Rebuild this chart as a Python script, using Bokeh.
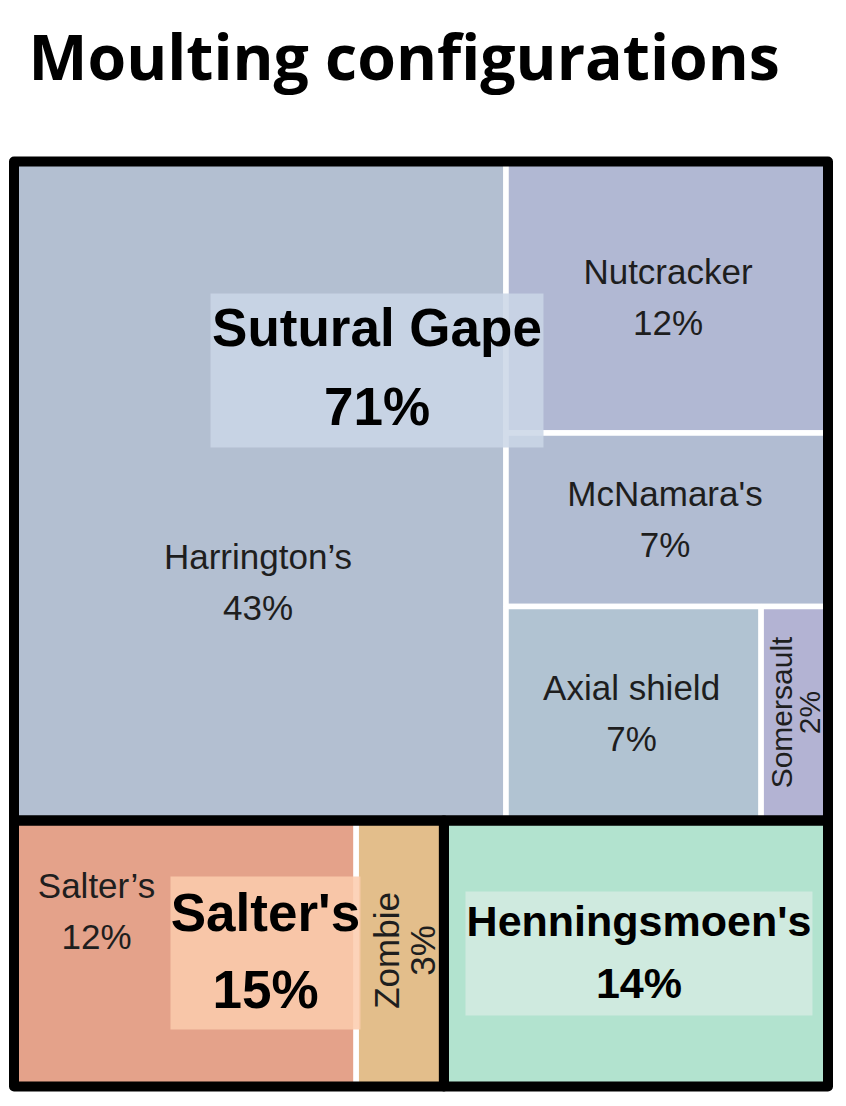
import math
from bokeh.plotting import figure
from bokeh.models import ColumnDataSource, Range1d, Label
from bokeh.core.properties import value, field
from bokeh.embed import file_html
from bokeh.resources import INLINE

# ---------------- data ----------------
TITLE = "Moulting configurations"
GROUPS = ["Sutural Gape", "Salter's", "Henningsmoen's"]
LEAF_NAMES = ["Harrington\u2019s", "Nutcracker", "McNamara's", "Axial shield",
              "Somersault", "Salter\u2019s", "Zombie", "Henningsmoen's"]
LEAF_GROUP = ["Sutural Gape", "Sutural Gape", "Sutural Gape", "Sutural Gape",
              "Sutural Gape", "Salter's", "Salter's", "Henningsmoen's"]
LEAF_PCT = [43.06, 11.61, 7.42, 7.25, 1.90, 12.09, 3.10, 13.57]

# ---------------- style ----------------
LEAF_COLORS = {
    "Harrington\u2019s": "#B3BFD1", "Nutcracker": "#B1B8D3", "McNamara's": "#B1BCD2",
    "Axial shield": "#B1C3D2", "Somersault": "#B3B3D3", "Salter\u2019s": "#E4A28A",
    "Zombie": "#E3BE8B", "Henningsmoen's": "#B2E3CF",
}
BOX_COLORS = {"Sutural Gape": "#CBD6E7", "Salter's": "#FBCCAD", "Henningsmoen's": "#D4EBE2"}
# leaf label placement (pixel shifts from leaf centre); rotated labels give line offsets across
LEAF_STYLE = {
    "Harrington\u2019s": dict(dx=-2, dy=92, size=35, rot=False),
    "Nutcracker": dict(dx=1, dy=0, size=35, rot=False),
    "McNamara's": dict(dx=-2, dy=0, size=35, rot=False),
    "Axial shield": dict(dx=-2, dy=0, size=35, rot=False),
    "Somersault": dict(dx=0, dy=-1, size=30, rot=True, b1=-13, b2=15),
    "Salter\u2019s": dict(dx=-88.6, dy=-42, size=35, rot=False),
    "Zombie": dict(dx=0, dy=-3, size=35, rot=True, b1=-13.5, b2=22),
}
GROUP_STYLE = {
    "Sutural Gape": dict(dx=-44, dy=-120.5, size=53, hw=166.5, hh=77, b1=-22, b2=57),
    "Salter's": dict(dx=36.5, dy=-0.5, size=53, hw=95, hh=76.5, b1=-19.5, b2=57.5),
    "Henningsmoen's": dict(dx=3, dy=0, size=43, hw=173.5, hh=62, b1=-16, b2=46),
}
MID = 0.39  # baseline sits this many font sizes below a "middle" anchor
W, H = 846, 1100
TM_X0, TM_Y0, TM_W, TM_H = 13.5, 161.0, 814.0, 925.0


# ---------------- squarified layout ----------------
def worst(row, short):
    s = sum(row)
    return max(max(short * short * r / (s * s), (s * s) / (short * short * r)) for r in row)


def squarify(vals, x, y, w, h):
    tot = sum(vals)
    order = sorted(range(len(vals)), key=lambda i: -vals[i])
    areas = [vals[i] * w * h / tot for i in order]
    out = [None] * len(vals)
    k = 0
    while k < len(areas):
        short = min(w, h)
        row = [areas[k]]
        j = k + 1
        while j < len(areas) and worst(row + [areas[j]], short) <= worst(row, short):
            row.append(areas[j])
            j += 1
        s = sum(row)
        if w >= h:
            cw = s / h
            yy = y
            for n, a in enumerate(row):
                rh = a / cw
                out[order[k + n]] = (x, yy, cw, rh)
                yy += rh
            x += cw
            w -= cw
        else:
            rh = s / w
            xx = x
            for n, a in enumerate(row):
                rw = a / rh
                out[order[k + n]] = (xx, y, rw, rh)
                xx += rw
            y += rh
            h -= rh
        k = j
    return out


group_vals = [sum(v for v, g in zip(LEAF_PCT, LEAF_GROUP) if g == grp) for grp in GROUPS]
group_rects = squarify(group_vals, TM_X0, TM_Y0, TM_W, TM_H)
leaf_rects = [None] * len(LEAF_NAMES)
for gi, grp in enumerate(GROUPS):
    idx = [i for i, g in enumerate(LEAF_GROUP) if g == grp]
    gx, gy, gw, gh = group_rects[gi]
    rs = squarify([LEAF_PCT[i] for i in idx], gx, gy, gw, gh)
    for i, r in zip(idx, rs):
        leaf_rects[i] = r

# ---------------- figure ----------------
p = figure(width=W, height=H, output_backend="svg", toolbar_location=None,
           x_range=Range1d(0, W), y_range=Range1d(H, 0),
           x_axis_type=None, y_axis_type=None, min_border=0)
p.grid.visible = False
p.outline_line_color = None
p.background_fill_color = "white"
p.border_fill_color = "white"

leaf_src = ColumnDataSource(dict(
    l=[r[0] for r in leaf_rects], r=[r[0] + r[2] for r in leaf_rects],
    t=[r[1] for r in leaf_rects], b=[r[1] + r[3] for r in leaf_rects],
    c=[LEAF_COLORS[n] for n in LEAF_NAMES]))
p.quad(left="l", right="r", top="t", bottom="b", fill_color="c", line_color="white",
       line_width=5.5, source=leaf_src)

grp_src = ColumnDataSource(dict(
    l=[r[0] for r in group_rects], r=[r[0] + r[2] for r in group_rects],
    t=[r[1] for r in group_rects], b=[r[1] + r[3] for r in group_rects]))
p.quad(left="l", right="r", top="t", bottom="b", fill_color=None, line_color="black",
       line_width=10, line_join="round", source=grp_src)

# leaf labels
lx, ly, lt, lfs, lang = [], [], [], [], []
for i, name in enumerate(LEAF_NAMES):
    if name not in LEAF_STYLE:
        continue
    st = LEAF_STYLE[name]
    x, y, w, h = leaf_rects[i]
    cx, cy = x + w / 2 + st["dx"], y + h / 2 + st["dy"]
    pct = f"{round(LEAF_PCT[i])}%"
    fs = st["size"]
    if st["rot"]:
        lx += [cx + st["b1"], cx + st["b2"]]
        ly += [cy, cy]
        lang += [math.pi / 2, math.pi / 2]
    else:
        lx += [cx, cx]
        ly += [cy - 12.5 - MID * fs, cy + 38.5 - MID * fs]
        lang += [0.0, 0.0]
    lt += [name, pct]
    lfs += [f"{fs}px", f"{fs}px"]
p.text(x="x", y="y", text="t", angle="a",
       source=ColumnDataSource(dict(x=lx, y=ly, t=lt, fs=lfs, a=lang)),
       text_font=value("Liberation Sans"), text_font_size=field("fs"), text_color="#1e1e1e",
       text_align="center", text_baseline="middle")

# group labels with background boxes
bx0, bx1, by0, by1, bc = [], [], [], [], []
gx_, gy_, gt, gfs = [], [], [], []
for gi, grp in enumerate(GROUPS):
    st = GROUP_STYLE[grp]
    x, y, w, h = group_rects[gi]
    cx, cy = x + w / 2 + st["dx"], y + h / 2 + st["dy"]
    bx0.append(cx - st["hw"]); bx1.append(cx + st["hw"])
    by0.append(cy - st["hh"]); by1.append(cy + st["hh"])
    bc.append(BOX_COLORS[grp])
    fs = st["size"]
    gx_ += [cx, cx]
    gy_ += [cy + st["b1"] - MID * fs, cy + st["b2"] - MID * fs]
    gt += [grp, f"{round(group_vals[gi])}%"]
    gfs += [f"{fs}px", f"{fs}px"]
p.quad(left="l", right="r", top="t", bottom="b", fill_color="c", fill_alpha=0.86, line_color=None,
       source=ColumnDataSource(dict(l=bx0, r=bx1, t=by0, b=by1, c=bc)))
p.text(x="x", y="y", text="t", source=ColumnDataSource(dict(x=gx_, y=gy_, t=gt, fs=gfs)),
       text_font=value("Liberation Sans"), text_font_size=field("fs"), text_font_style="bold",
       text_color="black", text_align="center", text_baseline="middle")

p.add_layout(Label(x=28, y=80 - 0.4 * 62.5, text=TITLE, text_font="Open Sans",
                   text_font_size="62.5px", text_font_style="bold", text_color="black",
                   text_baseline="middle", text_align="left"))

open("out.html", "w").write(file_html(p, INLINE))
